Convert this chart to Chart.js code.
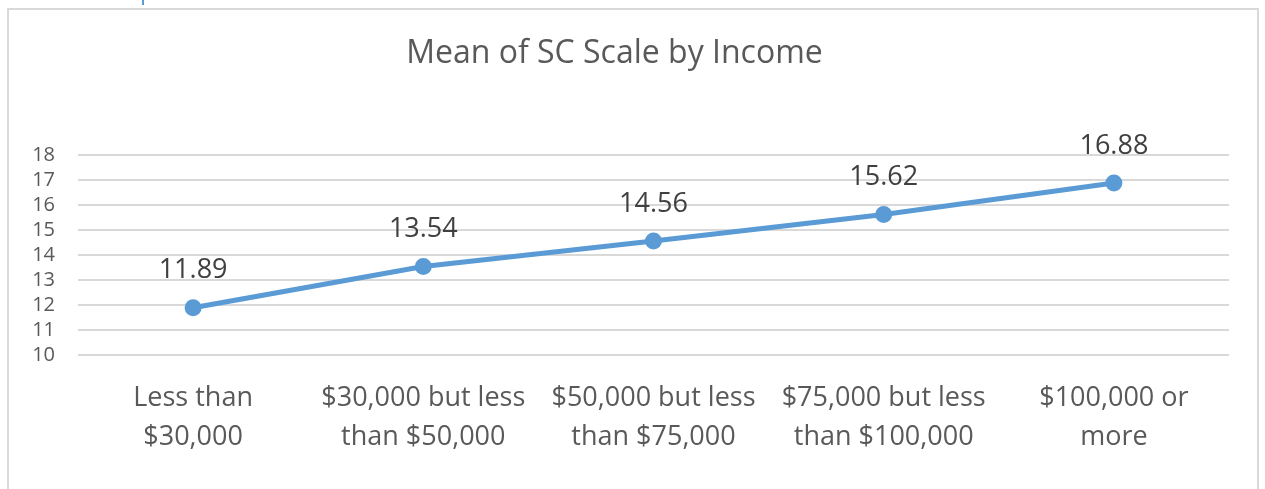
<!DOCTYPE html>
<html>
<head>
    <meta charset="utf-8">
    <title>Mean of SC Scale by Income</title>
    <script src="https://cdn.jsdelivr.net/npm/chart.js@4.4.6/dist/chart.umd.min.js"></script>
    <style>
        html, body { margin: 0; padding: 0; background: #fff; overflow: hidden; }
        #wrap { position: relative; width: 1265px; height: 489px; }
        #frame { position: absolute; left: 7px; top: 8px; width: 1252px; height: 490px; border: 2px solid #d9d9d9; box-sizing: border-box; }
        #tick { position: absolute; left: 142px; top: 0; width: 2px; height: 5px; background: #5b9bd5; }
        #myChart { position: absolute; left: 0; top: 0; }
    </style>
</head>
<body>
    <div id="wrap">
        <div id="frame"></div>
        <div id="tick"></div>
        <canvas id="myChart" width="1265" height="489"></canvas>
    </div>
    <script>
        const categories = [
            ["Less than", "$30,000"],
            ["$30,000 but less", "than $50,000"],
            ["$50,000 but less", "than $75,000"],
            ["$75,000 but less", "than $100,000"],
            ["$100,000 or", "more"],
        ]
        const means = [11.89, 13.54, 14.56, 15.62, 16.88]
        const yTicks = [10, 11, 12, 13, 14, 15, 16, 17, 18]

        const FONT = "'Open Sans', sans-serif"
        const TEXT = "#595959"
        const BLUE = "#5b9bd5"

        // writes each point's value above it
        const valueLabels = {
            id: "valueLabels",
            afterDatasetsDraw(chart) {
                const ctx = chart.ctx
                const meta = chart.getDatasetMeta(0)
                ctx.save()
                ctx.font = "27px " + FONT
                ctx.fillStyle = "#404040"
                ctx.textAlign = "center"
                ctx.textBaseline = "middle"
                meta.data.forEach((pt, i) => {
                    ctx.fillText(means[i].toFixed(2), pt.x, pt.y - 37)
                })
                ctx.restore()
            },
        }

        const chart = new Chart(document.getElementById("myChart"), {
            type: "line",
            data: {
                labels: categories,
                datasets: [{
                    data: means,
                    borderColor: BLUE,
                    backgroundColor: BLUE,
                    borderWidth: 5,
                    pointRadius: 6,
                    pointHoverRadius: 6,
                    tension: 0,
                    fill: false,
                }],
            },
            options: {
                responsive: false,
                animation: false,
                layout: { padding: { left: 0, right: 36, top: 0, bottom: 8 } },
                plugins: {
                    legend: { display: false },
                    tooltip: { enabled: false },
                    title: {
                        display: true,
                        text: "Mean of SC Scale by Income",
                        color: TEXT,
                        font: { family: FONT, size: 32, weight: "normal", lineHeight: 1.2 },
                        padding: { top: 35, bottom: 81.6 },
                    },
                },
                scales: {
                    x: {
                        offset: true,
                        grid: { display: false, drawTicks: false },
                        border: { display: false },
                        ticks: {
                            color: TEXT,
                            padding: 24,
                            maxRotation: 0,
                            autoSkip: false,
                            font: { family: FONT, size: 27, lineHeight: 1.444 },
                        },
                    },
                    y: {
                        min: 10,
                        max: 18,
                        afterBuildTicks(scale) {
                            scale.ticks = yTicks.map(v => ({ value: v }))
                        },
                        afterFit(scale) {
                            scale.width = 78
                        },
                        grid: { color: "#d9d9d9", lineWidth: 2, drawTicks: false },
                        border: { display: false },
                        ticks: {
                            color: TEXT,
                            padding: 23,
                            autoSkip: false,
                            font: { family: FONT, size: 20, lineHeight: 1 },
                        },
                    },
                },
            },
            plugins: [valueLabels],
        })
    </script>
</body>
</html>
